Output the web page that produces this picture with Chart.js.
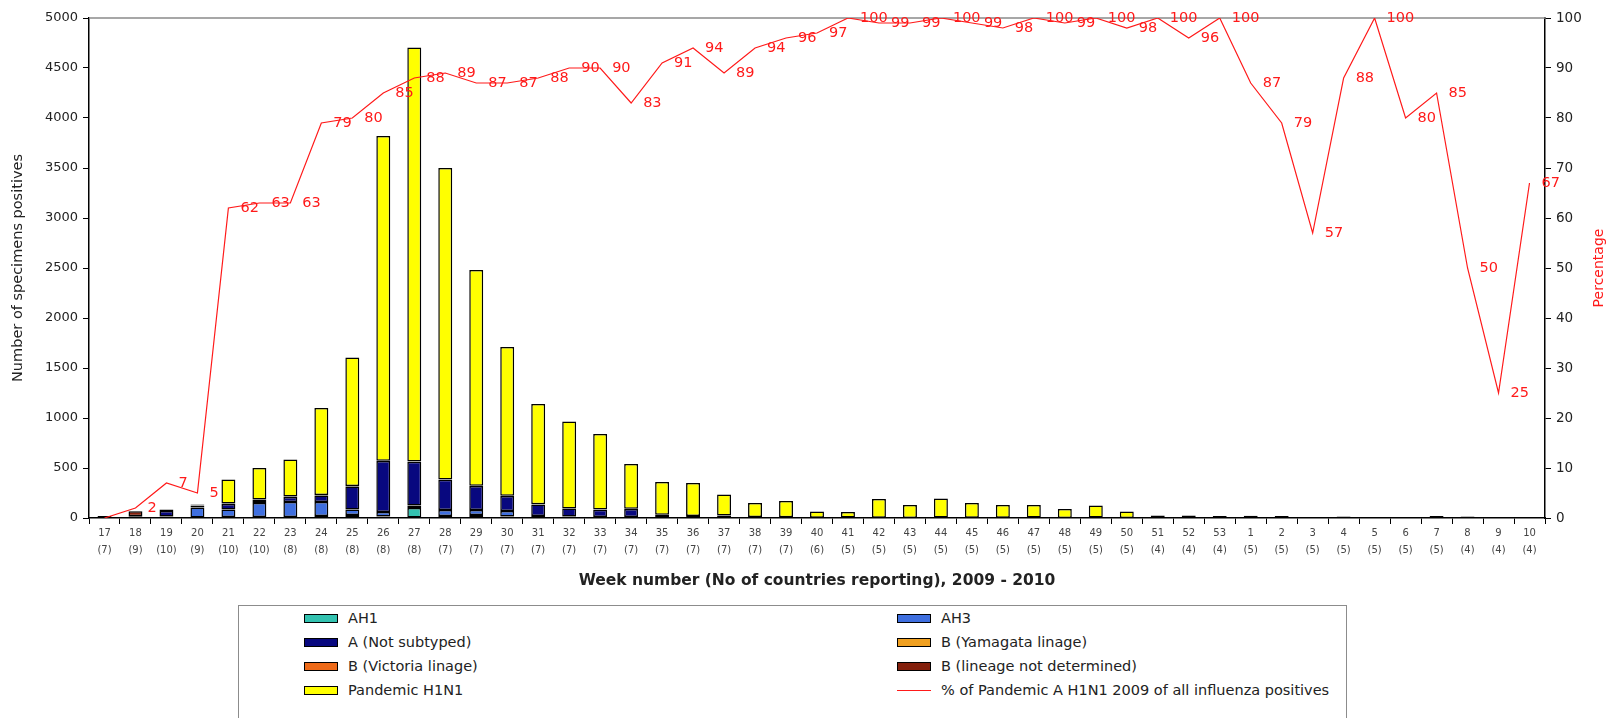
<!DOCTYPE html>
<html>
<head>
<meta charset="utf-8">
<script src="https://cdn.jsdelivr.net/npm/chart.js@4.4.1/dist/chart.umd.min.js"></script>
<style>
  html, body { margin: 0; padding: 0; background: #fff; }
  #wrap { position: relative; width: 1612px; height: 718px; overflow: hidden; font-family: "DejaVu Sans", sans-serif; }
  #box { position: absolute; left: 0; top: 0; width: 1612px; height: 600px; }
  #legend { position: absolute; left: 238px; top: 605px; width: 1109px; height: 140px; border: 1px solid #8c8c8c; box-sizing: border-box; }
  .item { position: absolute; height: 20px; display: flex; align-items: center; font-size: 14.5px; color: #222; white-space: nowrap; }
  .sw { width: 34px; height: 9px; border: 1px solid #000; box-sizing: border-box; margin-right: 10px; }
  .ln { width: 34px; height: 0; border-top: 1.5px solid #ff1a1a; margin-right: 10px; }
</style>
</head>
<body>
<div id="wrap">
  <div id="box"><canvas id="chart"></canvas></div>
  <div id="legend"></div>
</div>
<script>
// Influenza positives by week, 2009-2010, with share of pandemic A H1N1.

const weeks = ["17","18","19","20","21","22","23","24","25","26","27","28","29","30","31","32",
  "33","34","35","36","37","38","39","40","41","42","43","44","45","46","47","48","49","50",
  "51","52","53","1","2","3","4","5","6","7","8","9","10"];
const countries = [7,9,10,9,10,10,8,8,8,8,8,7,7,7,7,7,7,7,7,7,7,7,7,6,5,5,5,5,5,5,5,5,5,5,
  4,4,4,5,5,5,5,5,5,5,4,4,4];

const ah1 = [0,0,4,5,10,10,10,20,30,15,100,20,30,15,5,5,3,2,2,1,2,1,0,0,0,0,0,0,0,0,0,0,0,0,
  0,0,0,0,0,0,0,0,0,0,0,0,0];
const ah3 = [0,3,10,100,75,140,150,140,55,45,25,60,50,55,15,10,8,8,5,5,4,2,2,0,0,0,0,0,0,0,0,0,0,0,
  0,0,0,0,0,0,0,0,0,0,0,0,0];
const aNotSubtyped = [0,15,55,20,55,30,50,65,230,510,437,302,240,150,115,80,72,81,25,15,20,6,5,2,0,2,1,0,2,3,0,1,0,1,
  0,1,0,3,4,3,2,0,1,3,8,3,1];
const bYamagata = [0,0,0,0,0,0,0,0,0,0,0,0,0,0,0,0,0,0,0,0,0,0,0,0,0,0,0,0,0,0,0,0,0,0,
  0,0,0,0,0,0,0,0,0,0,0,0,0];
const bVictoria = [0,0,0,0,0,0,0,0,0,0,0,0,0,0,0,0,0,0,0,0,0,0,0,0,0,0,0,0,0,0,0,0,0,0,
  0,0,0,0,0,0,0,0,0,0,0,0,0];
const bNotDetermined = [20,50,10,3,6,5,6,6,6,3,3,3,2,2,2,1,1,1,0,0,0,0,0,0,0,0,0,0,0,0,0,0,0,0,
  0,0,0,0,0,0,0,0,0,0,0,0,0];
const pandemic = [0,2,6,7,239,315,369,869,1284,3247,4140,3115,2158,1488,1003,869,756,448,328,329,209,141,163,63,60,188,129,195,148,127,130,89,125,64,
  25,24,20,20,15,4,14,5,4,17,8,1,2];
const pctPandemic = [0,2,7,5,62,63,63,79,80,85,88,89,87,87,88,90,90,83,91,94,89,94,96,97,100,99,99,100,99,98,100,99,100,98,
  100,96,100,87,79,57,88,100,80,85,50,25,67];

const countTicks = [0,500,1000,1500,2000,2500,3000,3500,4000,4500,5000];
const pctTicks = [0,10,20,30,40,50,60,70,80,90,100];

const FONT = "'DejaVu Sans', sans-serif";
const RED = "#ff1a1a";

function barSet(label, data, color) {
  return {
    type: "bar", label, data: data.map((v) => v || null),
    backgroundColor: color, borderColor: "#000", borderWidth: 1.5, borderSkipped: false,
    yAxisID: "y", stack: "s", order: 2,
    barPercentage: 0.5, categoryPercentage: 0.9,
  };
}

// percentage labels to the right of each point, the grey frame line on top,
// and the right-hand axis title (reads bottom to top, like the left one)
const extras = {
  id: "extras",
  beforeDatasetsDraw(chart) {
    const { ctx, chartArea: a } = chart;
    ctx.save();
    ctx.strokeStyle = "#8a8a8a";
    ctx.lineWidth = 1.5;
    ctx.beginPath();
    ctx.moveTo(a.left, a.top);
    ctx.lineTo(a.right, a.top);
    ctx.stroke();
    ctx.restore();
  },
  afterDatasetsDraw(chart) {
    const { ctx } = chart;
    const idx = chart.data.datasets.findIndex((d) => d.type === "line");
    const meta = chart.getDatasetMeta(idx);
    ctx.save();
    ctx.fillStyle = RED;
    ctx.font = "14.5px " + FONT;
    ctx.textAlign = "left";
    ctx.textBaseline = "middle";
    meta.data.forEach((pt, i) => {
      const v = pctPandemic[i];
      if (!v) return;
      ctx.fillText(String(v), pt.x + 12, pt.y);
    });
    const a = chart.chartArea;
    ctx.translate(1599, (a.top + a.bottom) / 2);
    ctx.rotate(-Math.PI / 2);
    ctx.textAlign = "center";
    ctx.font = "14px " + FONT;
    ctx.fillText("Percentage", 0, 0);
    ctx.restore();
  },
};

const chart = new Chart(document.getElementById("chart"), {
  data: {
    labels: weeks.map((w, i) => [w, "(" + countries[i] + ")"]),
    datasets: [
      barSet("AH1", ah1, "#33c2b0"),
      barSet("AH3", ah3, "#3f6fdf"),
      barSet("A (Not subtyped)", aNotSubtyped, "#08087f"),
      barSet("B (Yamagata linage)", bYamagata, "#f0a020"),
      barSet("B (Victoria linage)", bVictoria, "#ee6a18"),
      barSet("B (lineage not determined)", bNotDetermined, "#84200c"),
      barSet("Pandemic  H1N1", pandemic, "#ffff00"),
      {
        type: "line", label: "% of Pandemic A H1N1 2009 of all influenza positives",
        data: pctPandemic, borderColor: RED, backgroundColor: RED, borderWidth: 1.2,
        pointRadius: 0, tension: 0, yAxisID: "y1", order: 0,
      },
    ],
  },
  options: {
    responsive: true,
    maintainAspectRatio: false,
    animation: false,
    devicePixelRatio: 1,
    layout: { padding: { top: 18, left: 0, right: 0, bottom: 0 } },
    plugins: { legend: { display: false }, tooltip: { enabled: false } },
    scales: {
      x: {
        stacked: true,
        grid: { display: true, drawOnChartArea: false, drawTicks: true, tickLength: 6, color: "#000", offset: true },
        border: { display: true, color: "#000", width: 1.5 },
        ticks: { color: "#444", font: { family: FONT, size: 10, lineHeight: 1.7 }, maxRotation: 0, autoSkip: false, padding: 1 },
        title: {
          display: true, text: "Week number (No of countries reporting), 2009 - 2010",
          color: "#222", font: { family: FONT, size: 15.5, weight: "bold" }, padding: { top: 4, bottom: 10 },
        },
        afterFit: (s) => { s.height = 82; },
      },
      y: {
        stacked: true, position: "left", min: 0, max: 5000,
        afterBuildTicks: (s) => { s.ticks = countTicks.map((v) => ({ value: v })); },
        grid: { drawOnChartArea: false, drawTicks: true, tickLength: 6, color: "#000" },
        border: { display: true, color: "#000", width: 1.5 },
        ticks: { color: "#222", font: { family: FONT, size: 13 }, padding: 5, callback: (v) => String(v) },
        title: {
          display: true, text: "Number of specimens positives", color: "#222",
          font: { family: FONT, size: 14.5 }, padding: { top: 10 },
        },
        afterFit: (s) => { s.width = 89; },
      },
      y1: {
        position: "right", min: 0, max: 100,
        afterBuildTicks: (s) => { s.ticks = pctTicks.map((v) => ({ value: v })); },
        grid: { drawOnChartArea: false, drawTicks: true, tickLength: 6, color: "#000" },
        border: { display: true, color: "#000", width: 1.5 },
        ticks: { color: "#222", font: { family: FONT, size: 13.5 }, padding: 5, callback: (v) => String(v) },
        afterFit: (s) => { s.width = 67; },
      },
    },
  },
  plugins: [extras],
});

// two-column legend box under the chart, built from the datasets
const legend = document.getElementById("legend");
chart.data.datasets.forEach((ds, i) => {
  const item = document.createElement("div");
  item.className = "item";
  item.style.left = (i % 2 === 0 ? 65 : 658) + "px";
  item.style.top = (2 + Math.floor(i / 2) * 24) + "px";
  const mark = document.createElement("span");
  if (ds.type === "line") {
    mark.className = "ln";
  } else {
    mark.className = "sw";
    mark.style.background = ds.backgroundColor;
  }
  const txt = document.createElement("span");
  txt.textContent = ds.label;
  item.appendChild(mark);
  item.appendChild(txt);
  legend.appendChild(item);
});
</script>
</body>
</html>
